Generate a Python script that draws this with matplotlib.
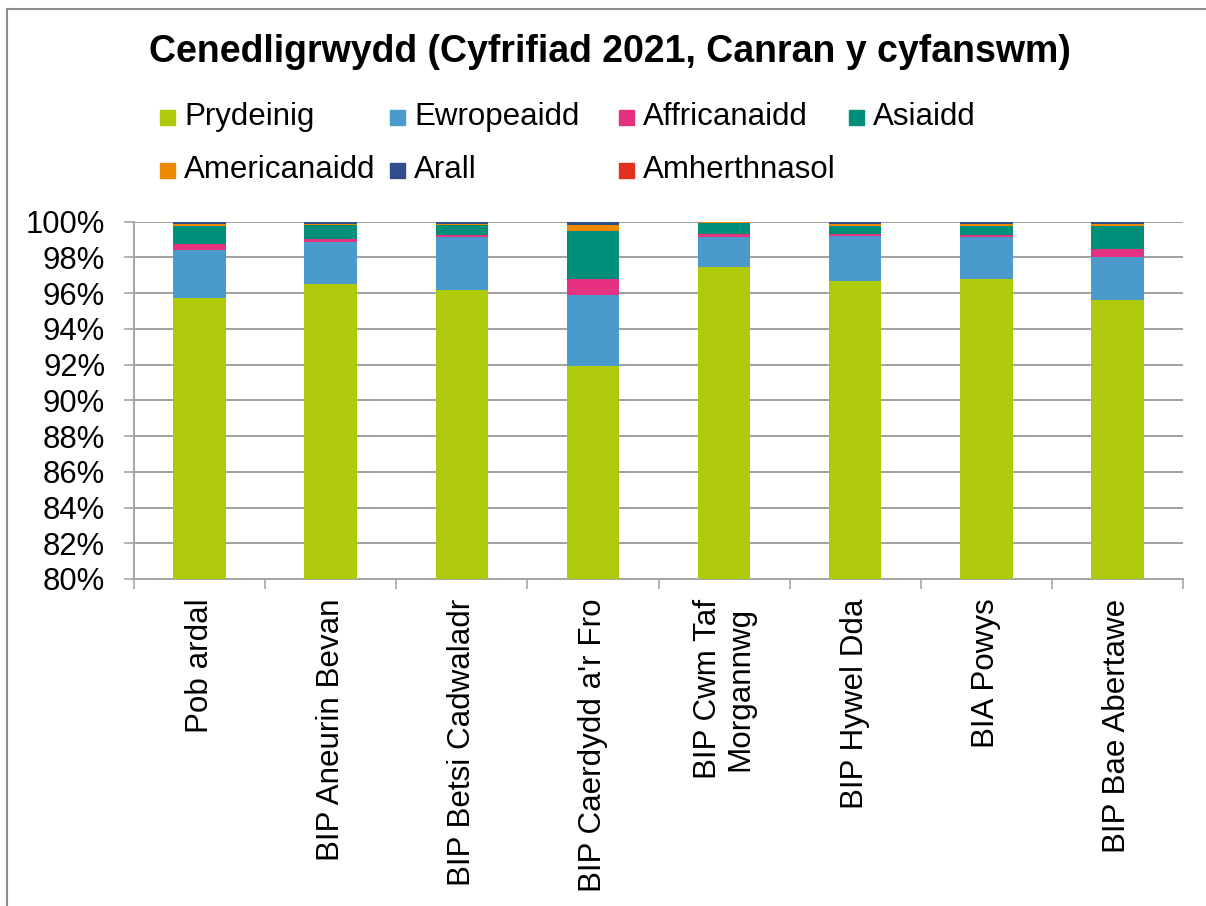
import numpy as np
import matplotlib
matplotlib.use("Agg")
import matplotlib.pyplot as plt
from matplotlib.ticker import FixedLocator, FuncFormatter
from matplotlib.lines import Line2D
from matplotlib.patches import Rectangle

plt.rcParams['font.family'] = ['Liberation Sans', 'DejaVu Sans']

categories = ["Pob ardal", "BIP Aneurin Bevan", "BIP Betsi Cadwaladr",
              "BIP Caerdydd a'r Fro", "BIP Cwm Taf\nMorgannwg", "BIP Hywel Dda",
              "BIA Powys", "BIP Bae Abertawe"]

series_names = ["Prydeinig", "Ewropeaidd", "Affricanaidd", "Asiaidd",
                "Americanaidd", "Arall", "Amherthnasol"]

prydeinig    = [95.74, 96.54, 96.17, 91.94, 97.46, 96.67, 96.80, 95.61]
ewropeaidd   = [2.65, 2.30, 2.95, 3.95, 1.66, 2.53, 2.32, 2.43]
affricanaidd = [0.38, 0.21, 0.15, 0.93, 0.21, 0.13, 0.13, 0.41]
asiaidd      = [0.99, 0.76, 0.54, 2.66, 0.58, 0.45, 0.53, 1.31]
americanaidd = [0.13, 0.08, 0.08, 0.35, 0.05, 0.11, 0.11, 0.13]
arall        = [0.11, 0.11, 0.11, 0.17, 0.04, 0.11, 0.11, 0.11]
amherthnasol = [0.00, 0.00, 0.00, 0.00, 0.00, 0.00, 0.00, 0.00]

yticks = [80, 82, 84, 86, 88, 90, 92, 94, 96, 98, 100]

colors = ["#AFCA0B", "#4A9BCB", "#E63180", "#00907A", "#EE8A00", "#2E4F8A", "#E3301E"]

series = [prydeinig, ewropeaidd, affricanaidd, asiaidd, americanaidd, arall, amherthnasol]

W, H = 1206, 906
fig = plt.figure(figsize=(W / 100, H / 100), dpi=100)
ax = fig.add_axes([134 / W, 1 - 579 / H, (1183 - 134) / W, (579 - 221.7) / H])

x = np.arange(len(categories))
bottom = np.zeros(len(categories))
for name, vals, c in zip(series_names, series, colors):
    v = np.array(vals, dtype=float)
    ax.bar(x, v, width=0.4, bottom=bottom, color=c, label=name, zorder=3, linewidth=0)
    bottom += v

ax.set_xlim(-0.5, len(categories) - 0.5)
ax.set_ylim(80, 100)
ax.yaxis.set_major_locator(FixedLocator(yticks))
ax.yaxis.set_major_formatter(FuncFormatter(lambda v, p: f"{v:.0f}%"))
ax.grid(axis='y', color='#a0a0a0', linewidth=1.4, zorder=0)
ax.set_axisbelow(True)

for s in ['top', 'right']:
    ax.spines[s].set_visible(False)
for s in ['left', 'bottom']:
    ax.spines[s].set_color('#a6a6a6')
    ax.spines[s].set_linewidth(1.4)

ax.tick_params(axis='y', length=7.2, width=1.2, color='#a6a6a6', labelsize=22.3, pad=13.5)
ax.set_xticks(x)
ax.set_xticklabels(categories, rotation=90, fontsize=22.6, ha='center', va='top',
                   multialignment='center', linespacing=1.1)
ax.tick_params(axis='x', which='major', length=0, pad=14)
ax.set_xticks(np.arange(-0.5, len(categories)), minor=True)
ax.tick_params(axis='x', which='minor', length=7.2, width=1.2, color='#a6a6a6')

# Title
fig.text(610 / W, 1 - 52 / H, "Cenedligrwydd (Cyfrifiad 2021, Canran y cyfanswm)",
         ha='center', va='center', fontsize=27, fontweight='bold')

# Legend (4 equal-width columns, row-major)
col_x = [160, 390, 619, 849]
row_y = [117, 170]
msz = 15
for i, (name, c) in enumerate(zip(series_names, colors)):
    r, col = divmod(i, 4)
    mx, my = col_x[col], row_y[r]
    fig.patches.append(Rectangle((mx / W, 1 - (my + msz / 2) / H), msz / W, msz / H,
                                 transform=fig.transFigure, color=c))
    fig.text((mx + msz + 9) / W, 1 - my / H, name, ha='left', va='center', fontsize=22.5)

# Outer frame lines (top and left)
fig.add_artist(Line2D([7 / W, 1], [1 - 8.5 / H, 1 - 8.5 / H], transform=fig.transFigure,
                      color='#8c8c8c', linewidth=1.5))
fig.add_artist(Line2D([7 / W, 7 / W], [0, 1 - 8.5 / H], transform=fig.transFigure,
                      color='#8c8c8c', linewidth=1.5))

fig.savefig("out.png", dpi=100)
